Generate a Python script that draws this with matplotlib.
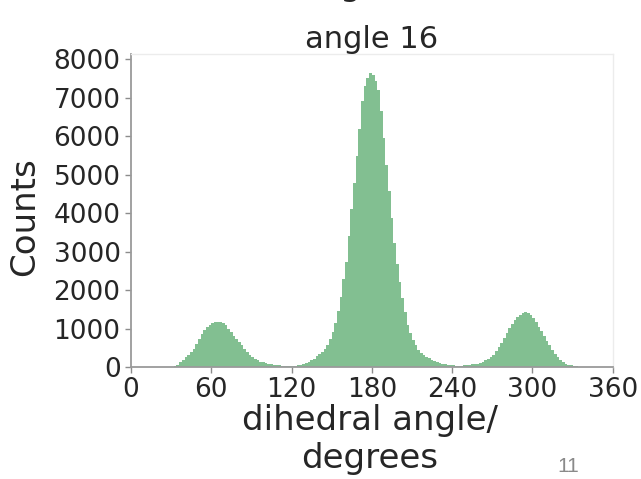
import numpy as np
import matplotlib
matplotlib.use('Agg')
from matplotlib import pyplot as plt

# dihedral angle histogram, 2 degree bins
BIN_WIDTH = 2
bin_edges = np.arange(0, 360 + BIN_WIDTH, BIN_WIDTH)
bin_centers = bin_edges[:-1] + BIN_WIDTH / 2

counts = [
    0, 0, 0, 0, 0, 0, 0, 0, 0, 0, 0, 0, 0, 0, 0,          # 0-30
    5, 25, 60, 120, 180,                                    # 30-40
    250, 320, 390, 480, 600,
    720, 860, 960, 1030, 1090,
    1130, 1160, 1180, 1170, 1130,
    1080, 1000, 900, 810, 720,
    640, 560, 470, 390, 320,
    260, 210, 170, 140, 120,
    100, 80, 65, 55, 45,                                    # 100-110
    40, 35, 30, 30, 30,
    30, 35, 40, 55, 75,
    100, 130, 170, 220, 290,
    340, 400, 470, 580, 720,                                # 140-150
    900, 1130, 1450, 1820, 2280,
    2740, 3400, 4100, 4780, 5480,
    6180, 6900, 7300, 7500, 7640,
    7580, 7420, 7200, 6640, 5950,                           # 180-190
    5250, 4560, 3860, 3220, 2680,
    2200, 1800, 1440, 1100, 880,
    700, 560, 450, 370, 310,
    260, 230, 190, 160, 130,                                # 220-230
    105, 90, 70, 55, 45,
    40, 35, 35, 35, 40,
    45, 55, 65, 75, 90,
    100, 130, 170, 220, 270,                                # 260-270
    320, 410, 510, 630, 750,
    880, 1010, 1120, 1220, 1300,
    1360, 1400, 1420, 1410, 1340,
    1260, 1160, 1050, 930, 810,                             # 300-310
    680, 560, 450, 350, 250,
    175, 125, 90, 60, 40,
    25, 15, 8, 4, 2,
    0, 0, 0, 0, 0, 0, 0, 0, 0, 0,                           # 340-360
]

x_ticks = [0, 60, 120, 180, 240, 300, 360]
y_ticks = [0, 1000, 2000, 3000, 4000, 5000, 6000, 7000, 8000]

TEXT = '#262626'
W, H = 641, 479

fig = plt.figure(figsize=(W / 100, H / 100), dpi=100)
ax = fig.add_axes([131 / W, 1 - 367 / H, (612.7 - 131) / W, (367 - 54) / H])

ax.hist(bin_centers, bins=bin_edges, weights=counts,
        histtype='stepfilled', color='#82bf91', linewidth=0)

ax.set_xlim(0, 360)
ax.set_ylim(0, 8130)
ax.set_xticks(x_ticks)
ax.set_yticks(y_ticks)
ax.tick_params(labelsize=19, labelcolor=TEXT, color='#8c8c8c',
               length=4, width=1)

for side in ('left', 'bottom'):
    ax.spines[side].set_color('#9a9a9a')
    ax.spines[side].set_linewidth(1.3)
for side in ('top', 'right'):
    ax.spines[side].set_color('#ececec')
    ax.spines[side].set_linewidth(1.0)

ax.set_title('angle 16', fontsize=22, color=TEXT, pad=4)

fig.text(24.5 / W, 1 - 217 / H, 'Counts', rotation=90, fontsize=24.5,
         color=TEXT, ha='center', va='center')
fig.text(370 / W, 1 - 404 / H, 'dihedral angle/\ndegrees', fontsize=24.5,
         color=TEXT, ha='center', va='top', linespacing=1.2)

# heading cut off above the panel
fig.text(350 / W, 1 + 14 / H, 'g', fontsize=24, color=TEXT,
         ha='center', va='center')

# slide number
fig.text(568 / W, 1 - 466 / H, '11', fontsize=15, color='#8a8a8a',
         family='Liberation Sans', ha='center', va='center')

fig.savefig('out.png', dpi=100)
